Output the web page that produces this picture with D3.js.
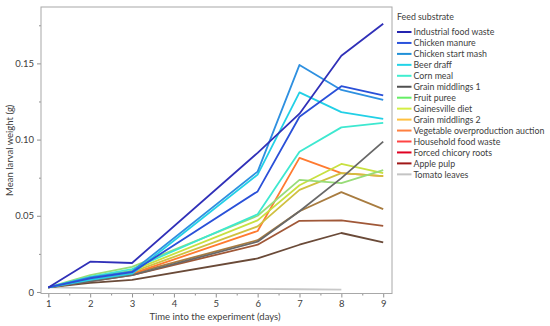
<!DOCTYPE html>
<html lang="en">
  <head>
    <meta charset="UTF-8" />
    <title>Larval weight</title>
    <script src="https://cdn.jsdelivr.net/npm/d3@7"></script>
    <style>
      body { margin: 0; background: #fff; }
      svg text { font-family: Lato, sans-serif; fill: #404040; }
    </style>
  </head>
  <body>
    <div id="container"></div>
    <script>
      const days = [1, 2, 3, 6, 7, 8, 9]
      const seriesNames = [
        'Industrial food waste', 'Chicken manure', 'Chicken start mash', 'Beer draff',
        'Corn meal', 'Grain middlings 1', 'Fruit puree', 'Gainesville diet',
        'Grain middlings 2', 'Vegetable overproduction auction', 'Household food waste',
        'Forced chicory roots', 'Apple pulp', 'Tomato leaves'
      ]
      const industrialFoodWaste = [0.003, 0.0199, 0.019, 0.0913, 0.117, 0.155, 0.176]
      const chickenManure = [0.003, 0.009, 0.013, 0.066, 0.115, 0.135, 0.129]
      const chickenStartMash = [0.003, 0.0095, 0.0135, 0.079, 0.149, 0.1326, 0.126]
      const beerDraff = [0.003, 0.008, 0.012, 0.077, 0.131, 0.118, 0.1136]
      const cornMeal = [0.003, 0.010, 0.015, 0.051, 0.092, 0.108, 0.111]
      const grainMiddlings1 = [0.003, 0.007, 0.011, 0.033, 0.053, 0.0747, 0.0987]
      const fruitPuree = [0.003, 0.011, 0.0165, 0.050, 0.0736, 0.0714, 0.080]
      const gainesvilleDiet = [0.003, 0.009, 0.014, 0.047, 0.070, 0.084, 0.078]
      const grainMiddlings2 = [0.003, 0.008, 0.013, 0.043, 0.067, 0.078, 0.076]
      const vegetableAuction = [0.003, 0.009, 0.012, 0.040, 0.088, 0.078, 0.076]
      const householdFoodWaste = [0.003, 0.008, 0.012, 0.034, 0.053, 0.0655, 0.0544]
      const forcedChicoryRoots = [0.003, 0.007, 0.011, 0.031, 0.0467, 0.047, 0.0434]
      const applePulp = [0.003, 0.006, 0.008, 0.022, 0.031, 0.0387, 0.0325]
      const tomatoLeaves = [0.003, 0.0025, 0.002, 0.002, 0.0018, 0.0015, null]
      const yTicks = [0, 0.05, 0.10, 0.15]
      const yMinorTicks = [0.025, 0.075, 0.125, 0.175]
      const xTicks = [1, 2, 3, 4, 5, 6, 7, 8, 9]
      const xMinorTicks = [1.5, 2.5, 3.5, 4.5, 5.5, 6.5, 7.5, 8.5]

      const allValues = [industrialFoodWaste, chickenManure, chickenStartMash, beerDraff,
        cornMeal, grainMiddlings1, fruitPuree, gainesvilleDiet, grainMiddlings2,
        vegetableAuction, householdFoodWaste, forcedChicoryRoots, applePulp, tomatoLeaves]
      const legendColors = ['#2424b0', '#2a52dc', '#2090d8', '#22d4e8', '#40eed0', '#505050',
        '#66ee66', '#d4ee44', '#ffc040', '#ff8040', '#ff4444', '#e00022', '#a01818', '#c4c4c4']
      const lineColors = ['#3030b8', '#2a50d8', '#2e90e0', '#22d0e6', '#3ee8d0', '#686868',
        '#98dc78', '#c8e040', '#d0c040', '#ff7a30', '#a87c40', '#a05838', '#6a4a38', '#c8c8c8']

      const width = 550
      const height = 326
      const plotLeft = 41, plotRight = 392, plotTop = 7, plotBottom = 293.5

      const x = d3.scaleLinear().domain([0.825, 9.21]).range([plotLeft, plotRight])
      const y = d3.scaleLinear().domain([-0.001, 0.187]).range([plotBottom, plotTop])

      const svg = d3.create('svg')
        .attr('width', width)
        .attr('height', height)
        .attr('viewBox', [0, 0, width, height])

      // axes
      svg.append('g')
        .attr('transform', `translate(${plotLeft},0)`)
        .call(d3.axisLeft(y).tickValues(yTicks).tickSize(4).tickPadding(3)
          .tickFormat(v => v === 0 ? '0' : v.toFixed(2)))
      svg.append('g')
        .attr('transform', `translate(${plotLeft},0)`)
        .call(d3.axisLeft(y).tickValues(yMinorTicks).tickSize(2).tickFormat(''))
      svg.append('g')
        .attr('transform', `translate(0,${plotBottom})`)
        .call(d3.axisBottom(x).tickValues(xTicks).tickSize(4).tickPadding(3).tickFormat(d3.format('d')))
      svg.append('g')
        .attr('transform', `translate(0,${plotBottom})`)
        .call(d3.axisBottom(x).tickValues(xMinorTicks).tickSize(2).tickFormat(''))
      svg.selectAll('.domain').remove()
      svg.selectAll('.tick line').attr('stroke', '#909090')
      svg.selectAll('.tick text').attr('font-size', 9.5).attr('fill', '#404040')
        .style('font-family', 'Lato, sans-serif')

      // frame
      svg.append('rect')
        .attr('x', plotLeft).attr('y', plotTop)
        .attr('width', plotRight - plotLeft).attr('height', plotBottom - plotTop)
        .attr('fill', 'none').attr('stroke', '#a8a8a8').attr('stroke-width', 1)

      // lines
      const line = d3.line()
        .defined(d => d[1] != null)
        .x(d => x(d[0]))
        .y(d => y(d[1]))
      svg.append('g')
        .selectAll('path')
        .data(allValues.map((vals, i) => ({ i, pts: days.map((d, j) => [d, vals[j]]) })).reverse())
        .join('path')
        .attr('d', s => line(s.pts))
        .attr('fill', 'none')
        .attr('stroke', s => lineColors[s.i])
        .attr('stroke-width', 1.8)
        .attr('stroke-linejoin', 'round')

      // axis titles
      svg.append('text')
        .attr('x', 215).attr('y', 320)
        .attr('text-anchor', 'middle').attr('font-size', 9.5)
        .text('Time into the experiment (days)')
      svg.append('text')
        .attr('transform', `translate(13,${(plotTop + plotBottom) / 2}) rotate(-90)`)
        .attr('text-anchor', 'middle').attr('font-size', 9.5)
        .text('Mean larval weight (g)')

      // legend
      const legend = svg.append('g').attr('transform', 'translate(397,0)')
      legend.append('text').attr('x', 0).attr('y', 20).attr('font-size', 8.8).text('Feed substrate')
      const item = legend.selectAll('g.item')
        .data(seriesNames)
        .join('g')
        .attr('class', 'item')
        .attr('transform', (d, i) => `translate(0,${32 + i * 10.95})`)
      item.append('line')
        .attr('x1', 0).attr('x2', 14.5).attr('y1', 0).attr('y2', 0)
        .attr('stroke', (d, i) => legendColors[i]).attr('stroke-width', 2)
      item.append('text')
        .attr('x', 16.5).attr('y', 3.2).attr('font-size', 8.8)
        .text(d => d)

      container.append(svg.node())
    </script>
  </body>
</html>
